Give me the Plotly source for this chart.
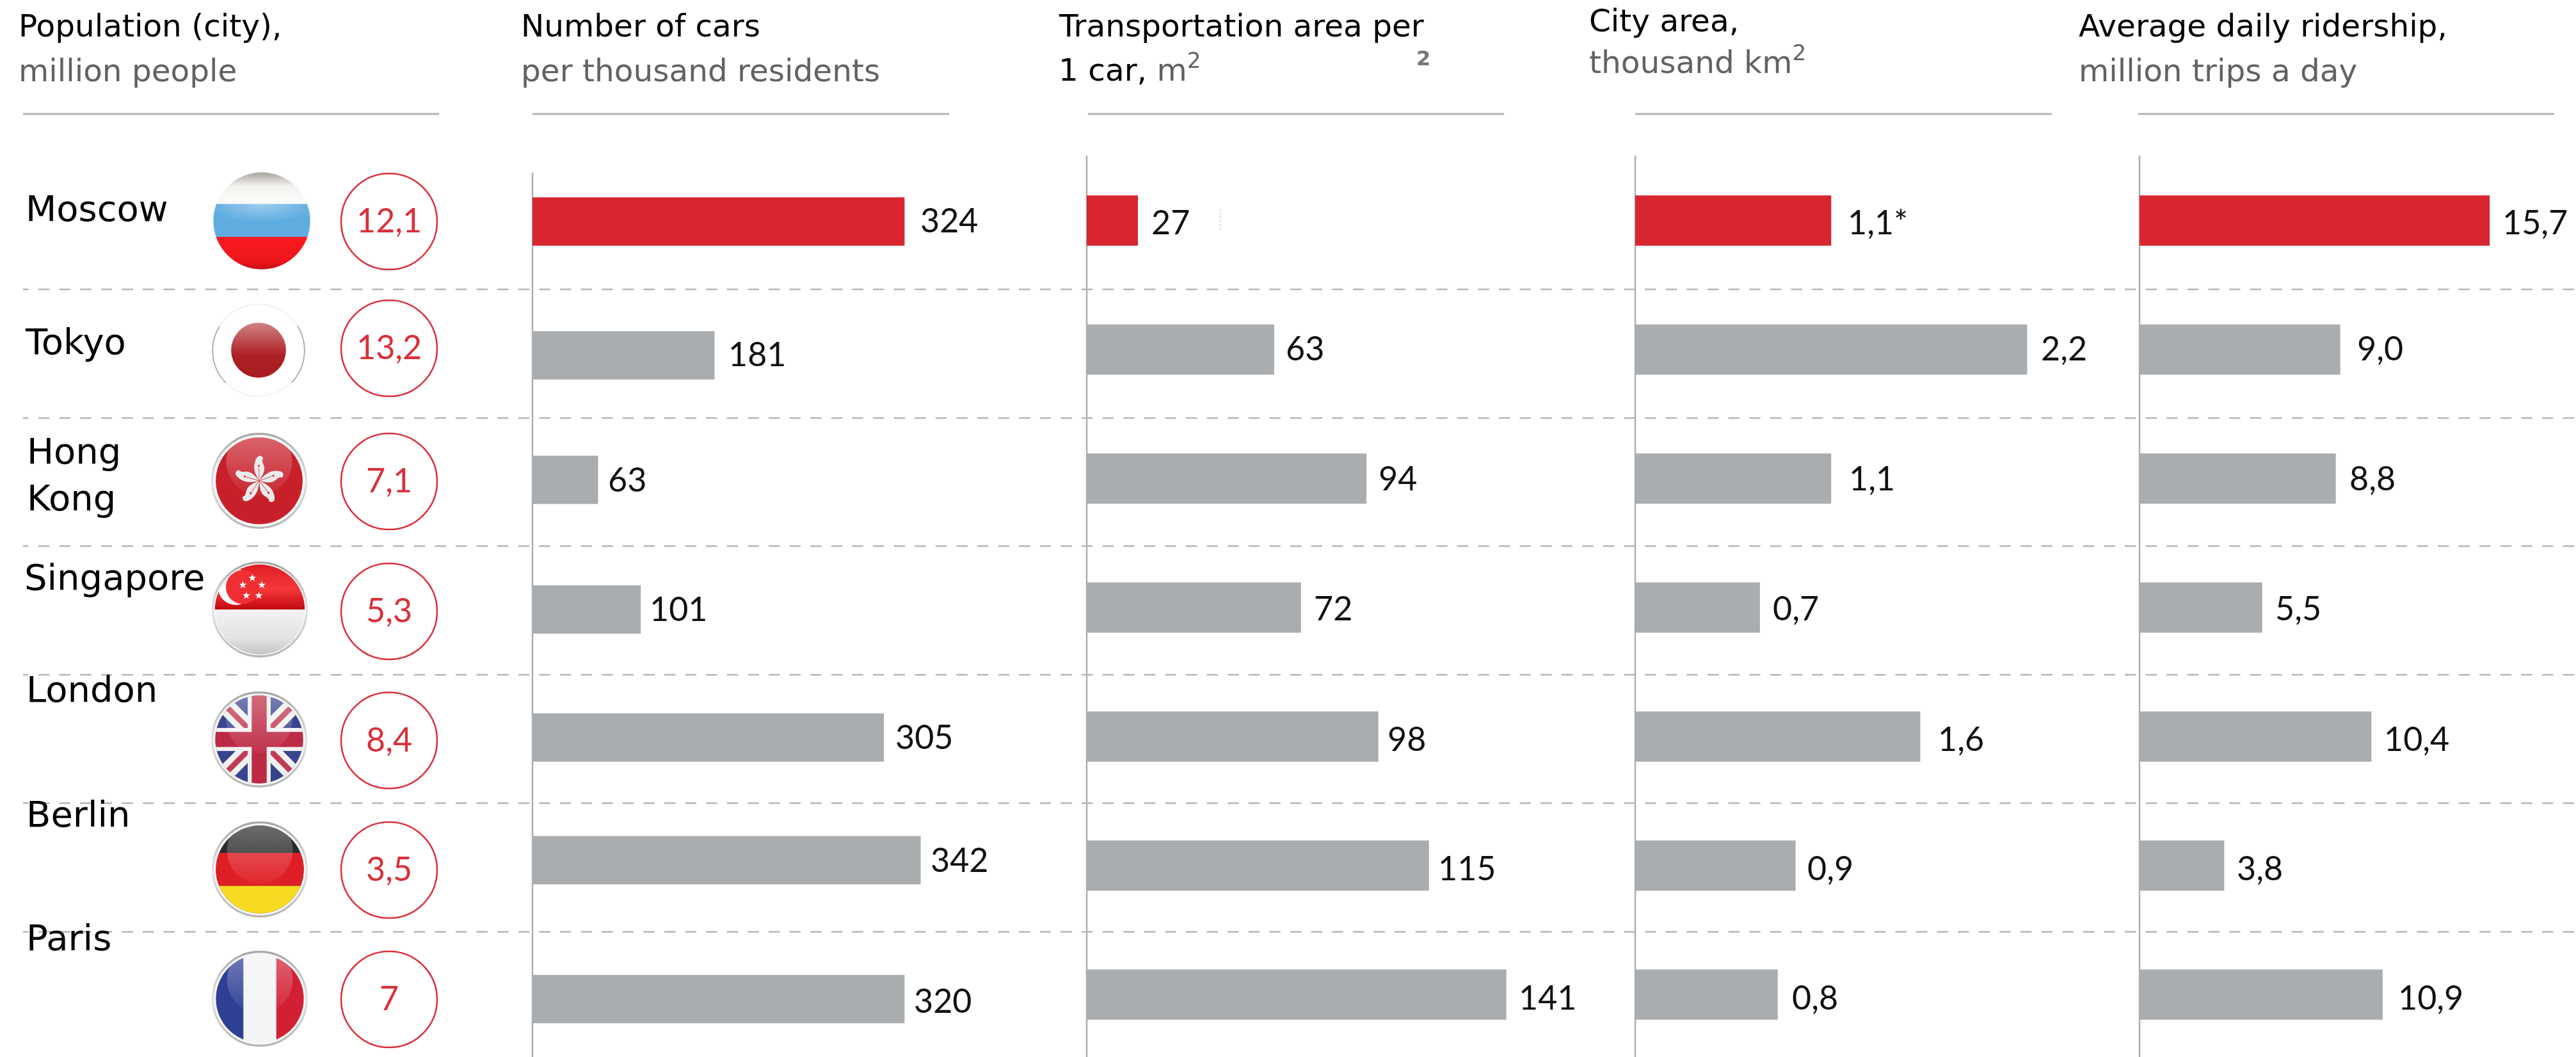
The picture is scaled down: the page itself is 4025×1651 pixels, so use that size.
import base64
import math
import plotly.graph_objects as go

# ---------- data ----------
cities = ["Moscow", "Tokyo", "Hong<br>Kong", "Singapore", "London", "Berlin", "Paris"]
population_labels = ["12,1", "13,2", "7,1", "5,3", "8,4", "3,5", "7"]

cars_labels = ["324", "181", "63", "101", "305", "342", "320"]
# the source draws this column (and Moscow in the next one) off its printed
# figures, so the bar lengths are read from the drawn bars, not from the labels
cars_drawn = [323, 158, 57, 94, 305, 337, 323]

transport_labels = ["27", "63", "94", "72", "98", "115", "141"]
transport_drawn = [17.2, 63, 94, 72, 98, 115, 141]

area_labels = ["1,1*", "2,2", "1,1", "0,7", "1,6", "0,9", "0,8"]
area_values = [1.1, 2.2, 1.1, 0.7, 1.6, 0.9, 0.8]

ridership_labels = ["15,7", "9,0", "8,8", "5,5", "10,4", "3,8", "10,9"]
ridership_values = [15.7, 9.0, 8.8, 5.5, 10.4, 3.8, 10.9]

# ---------- layout constants (pixels) ----------
W, H = 4025, 1651
RED, GREY = "#d9252f", "#aaadaf"
SANS = "DejaVu Sans"
NUM = "Lato"
NUM_SIZE = 52
ROW0, STEP = 344.5, 201.5
rows = [ROW0 + STEP * i for i in range(7)]

panels = [
    dict(axis="x2", x0=832, k=1.8, vals=cars_drawn, labels=cars_labels, top=270, bar_h=75.5,
         bar_nudge=[1.5, 9, 2, 3, 1.5, -8.5, 7],
         lab_nudge=[-1.5, 6, 0.5, 1, -0.5, -10, 8.5], gaps=[27, 24, 17, 16, 20, 17, 17]),
    dict(axis="x3", x0=1698, k=4.65, vals=transport_drawn, labels=transport_labels, top=243, bar_h=78.5,
         bar_nudge=[0] * 7, lab_nudge=[1, -3, -2, 0, 2, 2.5, 3], gaps=[23, 20, 21, 22, 16, 16, 21]),
    dict(axis="x4", x0=2555, k=278.4, vals=area_values, labels=area_labels, top=243, bar_h=78.5,
         bar_nudge=[0] * 7, lab_nudge=[1, -3, -2, 0, 2, 2.5, 3], gaps=[28, 24, 30, 22, 30, 20, 24]),
    dict(axis="x5", x0=3343, k=34.85, vals=ridership_values, labels=ridership_labels, top=243, bar_h=78.5,
         bar_nudge=[0] * 7, lab_nudge=[1, -3, -2, 0, 2, 2.5, 3], gaps=[22, 28, 23, 22, 22, 22, 26]),
]

circle_x = 608
circle_nudge = [1.5, -2, 4.5, 6, 6, 7, 7.5]
flag_xy = [(409, 345), (404, 547), (405, 751), (406, 952), (405, 1155), (406, 1358), (406, 1560)]
name_x = [39, 38, 41, 37, 40, 40, 40]
name_base = [345, 553, 725, 921, 1096, 1291, 1484]

rules = [(36, 686), (832, 1483), (1700, 2350), (2555, 3206), (3341, 3991)]
dash_y = [452, 653, 853, 1054, 1254.5, 1455.5]

fig = go.Figure()
annotations, shapes = [], []


def label(x, y, text, size, color, family, xref="x", anchor="left", weight=None):
    font = dict(size=size, color=color, family=family)
    if weight:
        font["weight"] = weight
    annotations.append(dict(x=x, y=y, xref=xref, yref="y", text=text, showarrow=False,
                            xanchor=anchor, yanchor="middle", align="left", borderpad=0,
                            font=font))


def base_label(x, baseline, text, size, color):
    label(x, baseline - 0.346 * size, text, size, color, SANS)


for p in panels:
    fig.add_trace(go.Bar(
        x=p["vals"],
        y=[r + n for r, n in zip(rows, p["bar_nudge"])],
        width=[p["bar_h"]] * 7,
        orientation="h",
        xaxis=p["axis"], yaxis="y",
        marker=dict(color=[RED] + [GREY] * 6, line=dict(width=0)),
        hoverinfo="skip", showlegend=False,
    ))
    for i in range(7):
        label(p["vals"][i], rows[i] + p["lab_nudge"][i], p["labels"][i], NUM_SIZE, "#111111", NUM,
              xref=p["axis"], weight=400)
        annotations[-1]["xshift"] = p["gaps"][i] - 3
    shapes.append(dict(type="line", xref="x", yref="y", x0=p["x0"], x1=p["x0"], y0=p["top"], y1=H,
                       line=dict(color="#aeaeae", width=2.5), layer="below"))

# population circles
circle_y = [r + n for r, n in zip(rows, circle_nudge)]
fig.add_trace(go.Scatter(
    x=[circle_x] * 7, y=circle_y, mode="markers", xaxis="x", yaxis="y",
    marker=dict(size=150, color="rgba(0,0,0,0)", line=dict(color="#dc2f3a", width=2.5)),
    hoverinfo="skip", showlegend=False, cliponaxis=False,
))
for cy, t in zip(circle_y, population_labels):
    label(circle_x, cy - 3, t, NUM_SIZE, "#d9303a", NUM, anchor="center", weight=400)

# city names
for x, b, c in zip(name_x, name_base, cities):
    if "<br>" in c:
        label(x, b + 35.5 - 0.346 * 56, c, 56, "#000000", SANS)
    else:
        base_label(x, b, c, 56, "#000000")

# headers
HG = "#626262"
HS = 48.5
base_label(28, 57, "Population (city),", HS, "#000000")
base_label(28, 127, "million people", HS, HG)
base_label(813, 57, "Number of cars", HS, "#000000")
base_label(813, 127, "per thousand residents", HS, HG)
base_label(1653, 57, "Transportation area per", HS, "#000000")
base_label(1653, 122, f'1 car, <span style="color:{HG}">m<sup>2</sup></span>', HS, "#000000")
base_label(2482, 49, "City area,", HS, "#000000")
base_label(2482, 110, "thousand km<sup>2</sup>", HS, HG)
base_label(3247, 57, "Average daily ridership,", HS, "#000000")
base_label(3247, 127, "million trips a day", HS, HG)
base_label(2212, 102, "<b>2</b>", 32, "#777777")

for a, b in rules:
    shapes.append(dict(type="line", xref="x", yref="y", x0=a, x1=b, y0=178, y1=178,
                       line=dict(color="#b4b4b4", width=3), layer="below"))
for y in dash_y:
    shapes.append(dict(type="line", xref="x", yref="y", x0=36, x1=44.5, y0=y, y1=y,
                       line=dict(color="#b6b6b6", width=2.5), layer="below"))
    shapes.append(dict(type="line", xref="x", yref="y", x0=60, x1=W, y0=y, y1=y,
                       line=dict(color="#b6b6b6", width=2.5, dash="17.4px,15.2px"), layer="below"))
# stray sliver left over beside the "27" label in the source
shapes.append(dict(type="line", xref="x", yref="y", x0=1907, x1=1907, y0=326, y1=362,
                   line=dict(color="#bbbbbb", width=1, dash="dot")))

# ---------- flag artwork ----------
DEFS = ('<defs><clipPath id="c"><circle cx="100" cy="100" r="{r}"/></clipPath>'
        '<linearGradient id="g" x1="0" y1="0" x2="0" y2="1"><stop offset="0" stop-color="#fff" stop-opacity=".34"/>'
        '<stop offset="1" stop-color="#fff" stop-opacity=".04"/></linearGradient>'
        '<linearGradient id="rim" x1="0" y1="0" x2="0" y2="1"><stop offset="0" stop-color="#a8a8a8"/>'
        '<stop offset=".5" stop-color="#e2e2e2"/><stop offset="1" stop-color="#b4b4b4"/></linearGradient>'
        '<linearGradient id="top" x1="0" y1="0" x2="0" y2="1"><stop offset="0" stop-color="#a09c94"/>'
        '<stop offset=".45" stop-color="#f3f2ef"/><stop offset="1" stop-color="#fbfbfa"/></linearGradient>'
        '<radialGradient id="blue" cx=".5" cy="0" r=".55"><stop offset="0" stop-color="#9fcdee"/>'
        '<stop offset="1" stop-color="#5fade0"/></radialGradient>'
        '<linearGradient id="redb" x1="0" y1="0" x2="0" y2="1"><stop offset="0" stop-color="#fb1a20"/>'
        '<stop offset=".75" stop-color="#ec151b"/><stop offset="1" stop-color="#b01016"/></linearGradient>'
        '<linearGradient id="disc" x1="0" y1="0" x2="0" y2="1"><stop offset="0" stop-color="#cf8283"/>'
        '<stop offset=".6" stop-color="#ad2024"/><stop offset="1" stop-color="#a81c1f"/></linearGradient>'
        '<linearGradient id="sg" x1="0" y1="0" x2="0" y2="1"><stop offset="0" stop-color="#f2f2f2"/>'
        '<stop offset=".55" stop-color="#e4e4e4"/><stop offset="1" stop-color="#bcbcbc"/></linearGradient>'
        '<linearGradient id="sr" x1="0" y1="0" x2="0" y2="1"><stop offset="0" stop-color="#d81a20"/>'
        '<stop offset=".6" stop-color="#f5383c"/><stop offset="1" stop-color="#c0080e"/></linearGradient>'
        '</defs>')


def flag(body, r=88, rim=True, gloss=True, after=""):
    parts = ['<svg xmlns="http://www.w3.org/2000/svg" width="200" height="200" viewBox="0 0 200 200">',
             DEFS.format(r=r)]
    if rim:
        parts.append('<circle cx="100" cy="100" r="94" fill="#f6f6f6" stroke="url(#rim)" stroke-width="4"/>')
    parts.append(f'<g clip-path="url(#c)">{body}')
    if gloss:
        parts.append('<circle cx="100" cy="62" r="66" fill="url(#g)"/>')
    parts.append('</g>' + after + '</svg>')
    return "data:image/svg+xml;base64," + base64.b64encode("".join(parts).encode()).decode()


def star(cx, cy, s=8):
    pts = []
    for k in range(10):
        rad = s if k % 2 == 0 else s * 0.4
        a = -math.pi / 2 + k * math.pi / 5
        pts.append(f"{cx + rad * math.cos(a):.1f},{cy + rad * math.sin(a):.1f}")
    return f'<polygon points="{" ".join(pts)}" fill="#fff"/>'


petal = ('<g transform="translate(100 100) scale(.8) translate(-100 -100) rotate({a} 100 100)">'
         '<path d="M100 100 C90 84 82 66 92 46 C96 36 106 34 110 44 '
         'C104 50 112 58 113 68 C113 82 104 92 100 100Z" fill="#e9e9e9"/>'
         '<path d="M100 100 L99 62" stroke="#c8202a" stroke-width="1.3"/><circle cx="99" cy="62" r="2.6" fill="#c8202a"/></g>')

bodies = [
    flag('<rect width="200" height="66" fill="url(#top)"/>'
         '<rect y="66" width="200" height="66" fill="url(#blue)"/><rect y="132" width="200" height="68" fill="url(#redb)"/>',
         r=97, rim=False, gloss=False),
    flag('<rect width="200" height="200" fill="#fff"/><circle cx="100" cy="100" r="55" fill="url(#disc)"/>',
         r=96, rim=False, gloss=False,
         after='<circle cx="100" cy="100" r="92" fill="none" stroke="#efefef" stroke-width="2"/>'
               '<path d="M22 52 A92 92 0 0 0 34 165" fill="none" stroke="#b0b0b0" stroke-width="2.5"/>'
               '<path d="M178 52 A92 92 0 0 1 166 165" fill="none" stroke="#b0b0b0" stroke-width="2.5"/>'),
    flag('<rect width="200" height="200" fill="#c8202a"/>'
         + "".join(petal.format(a=a) for a in (0, 72, 144, 216, 288)), r=87),
    flag('<rect width="200" height="100" fill="url(#sr)"/><rect y="100" width="200" height="100" fill="url(#sg)"/>'
         '<circle cx="52" cy="55" r="36" fill="#fff"/><circle cx="66" cy="55" r="34" fill="#ef2f33"/>'
         + star(85, 37) + star(66, 51) + star(104, 51) + star(73, 72) + star(98, 72), r=90, gloss=False),
    flag('<rect width="200" height="200" fill="#39448f"/>'
         '<path d="M0 0L200 200M200 0L0 200" stroke="#f1f1f1" stroke-width="34"/>'
         '<path d="M0 0L200 200M200 0L0 200" stroke="#c23a52" stroke-width="11"/>'
         '<path d="M100 0V200M0 100H200" stroke="#f1f1f1" stroke-width="46"/>'
         '<path d="M100 0V200M0 100H200" stroke="#bd2a45" stroke-width="30"/>', r=88),
    flag('<rect width="200" height="200" fill="#2b2b2b"/><rect y="67" width="200" height="66" fill="#df1f26"/>'
         '<rect y="133" width="200" height="67" fill="#f6db22"/>', r=88),
    flag('<rect width="200" height="200" fill="#f3f4f6"/><rect width="67" height="200" fill="#2f3f94"/>'
         '<rect x="133" width="67" height="200" fill="#d31f34"/>', r=88),
]
images = []
R = 78
for (cx, cy), src in zip(flag_xy, bodies):
    images.append(dict(source=src, xref="paper", yref="paper", x=(cx - R) / W, y=1 - (cy - R) / H,
                       sizex=2 * R / W, sizey=2 * R / H, xanchor="left", yanchor="top",
                       sizing="stretch", layer="above"))

# ---------- axes ----------
layout_axes = dict(
    xaxis=dict(range=[0, W], domain=[0, 1], visible=False, fixedrange=True),
    yaxis=dict(range=[H, 0], domain=[0, 1], visible=False, fixedrange=True),
)
for p in panels:
    name = "xaxis" + p["axis"][1:]
    layout_axes[name] = dict(domain=[p["x0"] / W, 1], range=[0, (W - p["x0"]) / p["k"]],
                             visible=False, fixedrange=True, anchor="y")

fig.update_layout(
    width=W, height=H, margin=dict(l=0, r=0, t=0, b=0), autosize=False,
    paper_bgcolor="white", plot_bgcolor="rgba(0,0,0,0)", barmode="overlay", showlegend=False,
    annotations=annotations, shapes=shapes, images=images, **layout_axes,
)

fig.write_html("out.html", config={"displayModeBar": False},
               post_script="document.body.style.margin='0';document.documentElement.style.overflow='hidden';")
